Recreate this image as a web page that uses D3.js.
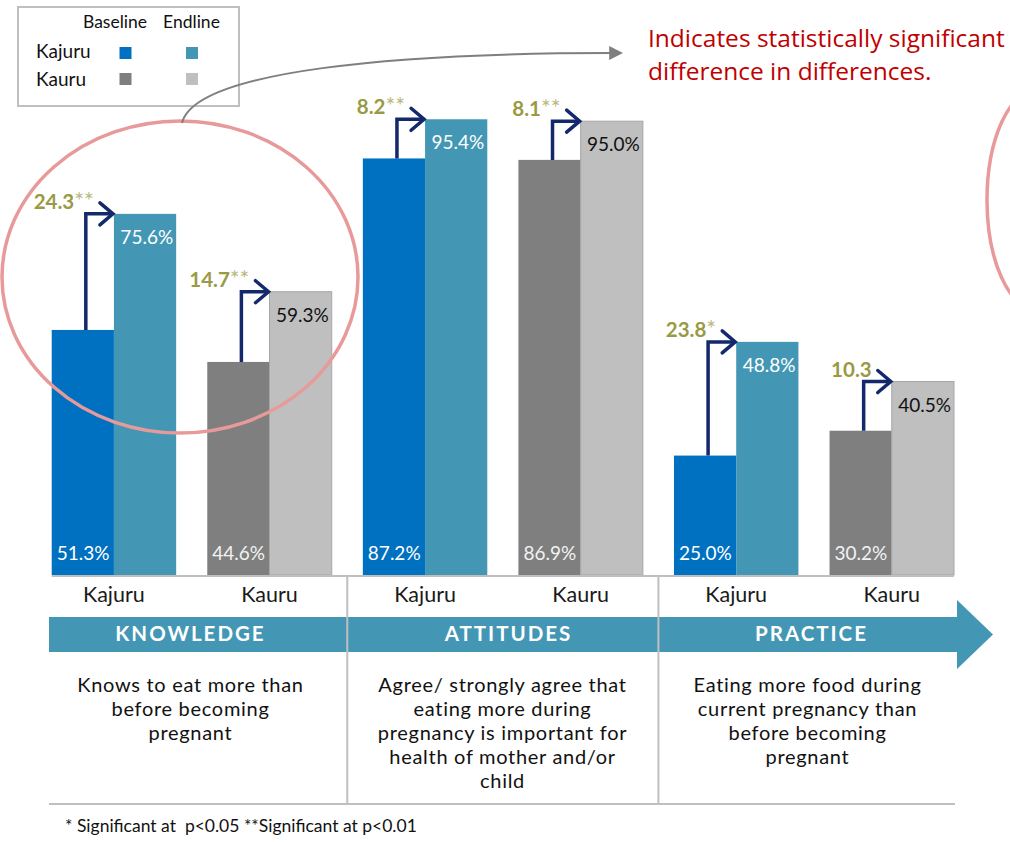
<!DOCTYPE html>
<html>
<head>
<meta charset="utf-8">
<script src="https://cdn.jsdelivr.net/npm/d3@7"></script>
<style>
  body { margin: 0; background: #fff; }
  svg { display: block; font-family: Lato, 'Open Sans', sans-serif; }
</style>
</head>
<body>
<script>
// chart data
const sites = ['Kajuru', 'Kauru', 'Kajuru', 'Kauru', 'Kajuru', 'Kauru']
const domains = ['KNOWLEDGE', 'ATTITUDES', 'PRACTICE']
const baseline = [51.3, 44.6, 87.2, 86.9, 25.0, 30.2]
const endline = [75.6, 59.3, 95.4, 95.0, 48.8, 40.5]
const diffs = ['24.3', '14.7', '8.2', '8.1', '23.8', '10.3']
const sig = ['**', '**', '**', '**', '*', '']
const descriptions = [
  ['Knows to eat more than', 'before becoming', 'pregnant'],
  ['Agree/ strongly agree that', 'eating more during', 'pregnancy is important for', 'health of mother and/or', 'child'],
  ['Eating more food during', 'current pregnancy than', 'before becoming', 'pregnant']
]
const rounds = ['Baseline', 'Endline']
const legendSites = ['Kajuru', 'Kauru']
const yTicks = [0, 100]

const colors = {
  Kajuru: ['#0070c0', '#4397b5'],
  Kauru: ['#7f7f7f', '#bfbfbf']
}
const textColors = {
  Kajuru: ['#ffffff', '#ffffff'],
  Kauru: ['#f2f2f2', '#111111']
}

const width = 1010
const height = 842

const svg = d3.select('body')
  .append('svg')
  .attr('width', width)
  .attr('height', height)

const x = d3.scaleBand()
  .domain(d3.range(sites.length))
  .range([51.7, 954])
  .paddingInner(0.2)
  .paddingOuter(0)

const xInner = d3.scaleBand()
  .domain([0, 1])
  .range([0, x.bandwidth()])

const y = d3.scaleLinear()
  .domain(d3.extent(yTicks))
  .range([575, 97.3])

const rows = sites.map((s, i) => ({ i, site: s, values: [baseline[i], endline[i]] }))

// bars
const groupsView = svg.append('g').attr('class', 'bars')
  .selectAll('g')
  .data(rows)
  .enter()
    .append('g')
    .attr('transform', d => `translate(${x(d.i)},0)`)

groupsView.selectAll('rect')
  .data(d => d.values.map((v, k) => ({ v, k, site: d.site })))
  .enter()
    .append('rect')
    .attr('x', d => xInner(d.k))
    .attr('y', d => y(d.v))
    .attr('width', xInner.bandwidth())
    .attr('height', d => y(0) - y(d.v))
    .attr('fill', d => colors[d.site][d.k])
    .attr('stroke', d => d.site === 'Kauru' && d.k === 1 ? '#a6a6a6' : 'none')
    .attr('stroke-width', 1)

// endline labels at the top
groupsView.append('text')
  .attr('x', xInner(1) + xInner.bandwidth() - 3)
  .attr('y', d => y(d.values[1]) + 30)
  .attr('text-anchor', 'end')
  .attr('font-size', 19)
  .attr('fill', d => textColors[d.site][1])
  .text(d => d.values[1].toFixed(1) + '%')

// baseline labels at the bottom
groupsView.append('text')
  .attr('x', xInner(0) + 5)
  .attr('y', y(0) - 15)
  .attr('font-size', 19)
  .attr('fill', d => textColors[d.site][0])
  .text(d => d.values[0].toFixed(1) + '%')

// bent arrows
const arrowColor = '#13296b'
groupsView.append('path')
  .attr('fill', 'none')
  .attr('stroke', arrowColor)
  .attr('stroke-width', 3.5)
  .attr('stroke-linejoin', 'miter')
  .attr('d', d => {
    const vx = xInner(0) + xInner.bandwidth() / 2 + 3
    const ty = y(d.values[1])
    const tx = xInner(1) - 1
    return `M${vx},${y(d.values[0])} V${ty} H${tx}`
  })

groupsView.append('path')
  .attr('fill', 'none')
  .attr('stroke', arrowColor)
  .attr('stroke-width', 3.5)
  .attr('stroke-linecap', 'round')
  .attr('d', d => {
    const ty = y(d.values[1])
    const tx = xInner(1) - 1
    return `M${tx - 13},${ty - 11} L${tx},${ty} L${tx - 13},${ty + 11}`
  })

// difference labels
const diffText = groupsView.append('text')
  .attr('x', xInner(0) + xInner.bandwidth() / 2 + 11)
  .attr('y', d => y(d.values[1]) - 5)
  .attr('text-anchor', 'end')
  .attr('font-size', 20.5)
  .attr('font-weight', 'bold')
  .attr('fill', '#9a9a45')
diffText.append('tspan').text(d => diffs[d.i])
diffText.append('tspan')
  .attr('font-weight', 'normal')
  .attr('font-size', 23)
  .attr('fill', '#b9b97c')
  .text(d => sig[d.i])

// axis line
svg.append('line')
  .attr('x1', x.range()[0]).attr('x2', x.range()[1])
  .attr('y1', y(0) + 1).attr('y2', y(0) + 1)
  .attr('stroke', '#bfbfbf')
  .attr('stroke-width', 2)

// site labels
svg.append('g').selectAll('text')
  .data(rows)
  .enter()
    .append('text')
    .attr('x', d => x(d.i) + x.bandwidth() / 2)
    .attr('y', 602)
    .attr('text-anchor', 'middle')
    .attr('font-size', 21.5)
    .attr('fill', '#1a1a1a')
    .text(d => d.site)

// section boundaries, between each pair of groups
const sectionEdges = [49]
domains.forEach((dm, j) => {
  if (j > 0) {
    const left = x(j * 2 - 1) + x.bandwidth()
    sectionEdges.push((left + x(j * 2)) / 2)
  }
})
sectionEdges.push(957)
const textCenters = [190.5, 502.5, 807.5]
const labelShift = [0, 6, 4]

// band arrow
const bandTop = 617
const bandBottom = 652
svg.append('path')
  .attr('fill', '#4397b5')
  .attr('d', `M49,${bandTop} H957 V600 L993,${(bandTop + bandBottom) / 2} L957,669 V${bandBottom} H49 Z`)

svg.append('g').selectAll('text')
  .data(domains)
  .enter()
    .append('text')
    .attr('x', (d, j) => textCenters[j] + labelShift[j])
    .attr('y', 641)
    .attr('text-anchor', 'middle')
    .attr('font-size', 20.5)
    .attr('letter-spacing', 2)
    .attr('font-weight', 'bold')
    .attr('fill', '#ffffff')
    .text(d => d)

// separators
svg.append('g').selectAll('line')
  .data(sectionEdges.slice(1, -1))
  .enter()
    .append('line')
    .attr('x1', d => d).attr('x2', d => d)
    .attr('y1', y(0) + 1).attr('y2', 804)
    .attr('stroke', '#bfbfbf')
    .attr('stroke-width', 2)

svg.append('line')
  .attr('x1', 49).attr('x2', 955)
  .attr('y1', 804).attr('y2', 804)
  .attr('stroke', '#bfbfbf')
  .attr('stroke-width', 2)

// descriptions
const descView = svg.append('g').selectAll('text')
  .data(descriptions)
  .enter()
    .append('text')
    .attr('text-anchor', 'middle')
    .attr('font-size', 20)
    .attr('letter-spacing', 0.7)
    .attr('fill', '#111')

descView.selectAll('tspan')
  .data((d, j) => d.map(line => ({ line, j })))
  .enter()
    .append('tspan')
    .attr('x', d => textCenters[d.j])
    .attr('y', (d, k) => 692 + k * 24)
    .text(d => d.line)

// footnote
svg.append('text')
  .attr('x', 65)
  .attr('y', 832)
  .attr('font-size', 17.5)
  .attr('fill', '#111')
  .style('white-space', 'pre')
  .text('* Significant at  p<0.05 **Significant at p<0.01')

// legend
const legend = svg.append('g')
legend.append('rect')
  .attr('x', 18).attr('y', 7)
  .attr('width', 221).attr('height', 99)
  .attr('fill', '#fff')
  .attr('stroke', '#bfbfbf')
  .attr('stroke-width', 2)

const legendX = [125.5, 192]
const legendTextX = [115, 191.5]
legend.selectAll('text.round')
  .data(rounds)
  .enter()
    .append('text')
    .attr('class', 'round')
    .attr('x', (d, k) => legendTextX[k])
    .attr('y', 28)
    .attr('text-anchor', 'middle')
    .attr('font-size', 17.5)
    .attr('fill', '#111')
    .text(d => d)

legendSites.forEach((s, r) => {
  legend.append('text')
    .attr('x', 36)
    .attr('y', 58 + r * 28)
    .attr('font-size', 19)
    .attr('fill', '#111')
    .text(s)
  rounds.forEach((rd, k) => {
    legend.append('rect')
      .attr('x', legendX[k] - 6)
      .attr('y', 47 + r * 26)
      .attr('width', 12)
      .attr('height', 12)
      .attr('fill', colors[s][k])
  })
})

// callout
svg.append('ellipse')
  .attr('cx', 180).attr('cy', 277)
  .attr('rx', 178).attr('ry', 156)
  .attr('fill', 'none')
  .attr('stroke', '#e89a9a')
  .attr('stroke-width', 3.5)

svg.append('ellipse')
  .attr('cx', 1037).attr('cy', 200)
  .attr('rx', 50).attr('ry', 110)
  .attr('fill', 'none')
  .attr('stroke', '#e89a9a')
  .attr('stroke-width', 3.5)

svg.append('defs').append('marker')
  .attr('id', 'tri')
  .attr('viewBox', '0 0 10 10')
  .attr('refX', 2).attr('refY', 5)
  .attr('markerWidth', 7).attr('markerHeight', 7)
  .attr('orient', 'auto')
  .attr('markerUnits', 'strokeWidth')
  .append('path')
    .attr('d', 'M0,0 L10,5 L0,10 Z')
    .attr('fill', '#7f7f7f')

svg.append('path')
  .attr('fill', 'none')
  .attr('stroke', '#7f7f7f')
  .attr('stroke-width', 2)
  .attr('marker-end', 'url(#tri)')
  .attr('d', 'M182,123 C195,70 400,53 612,53')

const note = svg.append('text')
  .attr('font-family', "'Open Sans', sans-serif")
  .attr('font-size', 24.5)
  .attr('fill', '#c00000')
note.append('tspan').attr('x', 648).attr('y', 47).text('Indicates statistically significant')
note.append('tspan').attr('x', 648).attr('y', 80).text('difference in differences.')
</script>
</body>
</html>
